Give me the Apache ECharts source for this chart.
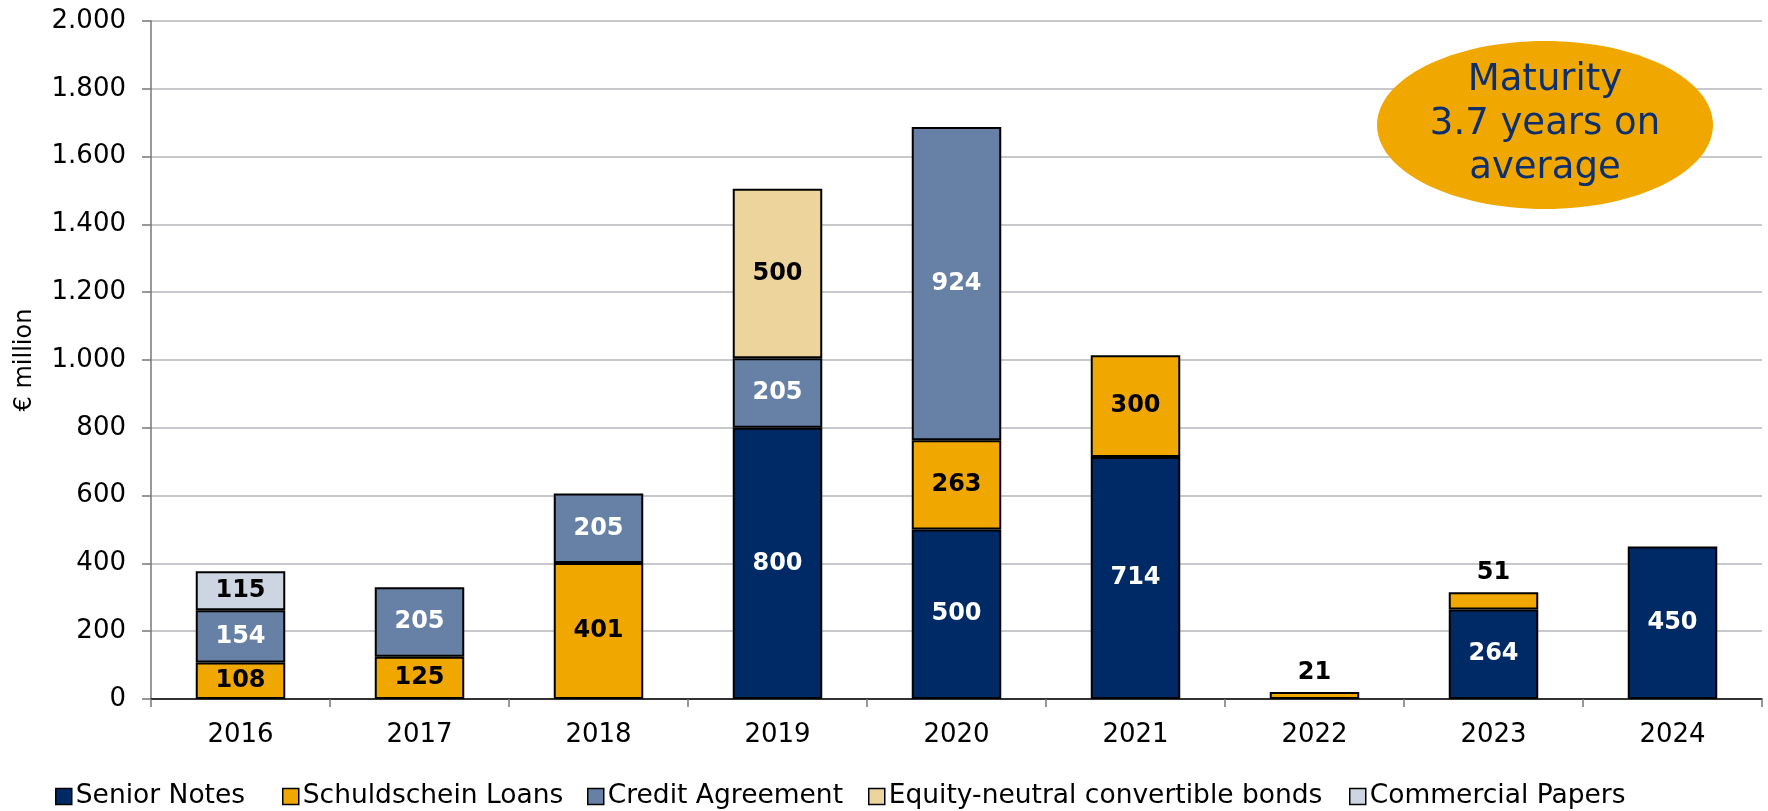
<!DOCTYPE html>
<html>
<head>
<meta charset="utf-8">
<script src="https://cdn.jsdelivr.net/npm/echarts@6/dist/echarts.min.js"></script>
<style>
  html, body { margin: 0; padding: 0; background: #fff; }
  #chart { width: 1768px; height: 811px; }
</style>
</head>
<body>
<div id="chart"></div>
<script>
// Debt maturity profile, € million per year
const years = ['2016', '2017', '2018', '2019', '2020', '2021', '2022', '2023', '2024'];
const seniorNotes      = [null, null, null, 800, 500, 714, null, 264, 450];
const schuldschein     = [108, 125, 401, null, 263, 300, 21, 51, null];
const creditAgreement  = [154, 205, 205, 205, 924, null, null, null, null];
const convertibleBonds = [null, null, null, 500, null, null, null, null, null];
const commercialPapers = [115, null, null, null, null, null, null, null, null];
const yTicks = { min: 0, max: 2000, step: 200 };
const seriesNames = ['Senior Notes', 'Schuldschein Loans', 'Credit Agreement',
                     'Equity-neutral convertible bonds', 'Commercial Papers'];
const calloutLines = ['Maturity', '3.7 years on', 'average'];
// small slices whose label sits above the bar
const labelAbove = { '2022': true, '2023': true };

const FONT = '"DejaVu Sans", Verdana, sans-serif';
const colors = ['#002A66', '#F0A800', '#6680A6', '#EDD49C', '#CDD4E2'];
const labelColors = ['#ffffff', '#000000', '#ffffff', '#000000', '#000000'];
const values = [seniorNotes, schuldschein, creditAgreement, convertibleBonds, commercialPapers];
// left edge of each legend entry along the bottom row
const legendLeft = [55, 282, 587, 868, 1349];

function fmtThousands(v) {
  return String(v).replace(/\B(?=(\d{3})+(?!\d))/g, '.');
}

const series = values.map((arr, i) => ({
  name: seriesNames[i],
  type: 'bar',
  stack: 'total',
  barWidth: '50%',
  itemStyle: { color: colors[i], borderColor: '#000', borderWidth: 2 },
  label: {
    show: true,
    position: 'inside',
    color: labelColors[i],
    fontFamily: FONT,
    fontWeight: 'bold',
    fontSize: 24
  },
  data: arr.map((v, j) => {
    if (v === null) return '-';
    if (i === 1 && labelAbove[years[j]]) {
      return { value: v, label: { position: 'top', distance: 7, color: '#000' } };
    }
    return v;
  })
}));

const legends = seriesNames.map((name, i) => ({
  left: legendLeft[i],
  top: 783,
  padding: 0,
  itemWidth: 16,
  itemHeight: 16,
  icon: 'rect',
  textStyle: { fontFamily: FONT, fontSize: 26.5, color: '#000', padding: [0, 0, 0, -1] },
  itemStyle: { borderColor: '#000', borderWidth: 1.5 },
  data: [name]
}));

const chart = echarts.init(document.getElementById('chart'), null, { renderer: 'canvas' });
chart.setOption({
  animation: false,
  backgroundColor: '#fff',
  grid: { left: 151, right: 6, top: 21, bottom: 112 },
  legend: legends,
  xAxis: {
    type: 'category',
    data: years,
    axisLine: { lineStyle: { color: '#000', width: 1.5 } },
    axisTick: { show: true, length: 8, lineStyle: { color: '#777', width: 1.5 } },
    axisLabel: { fontFamily: FONT, fontSize: 26, color: '#000', margin: 23 }
  },
  yAxis: {
    type: 'value',
    min: yTicks.min,
    max: yTicks.max,
    interval: yTicks.step,
    name: '€ million',
    nameLocation: 'middle',
    nameRotate: 90,
    nameGap: 114,
    nameTextStyle: { fontFamily: FONT, fontSize: 24, color: '#000' },
    axisLine: { show: true, lineStyle: { color: '#777', width: 1.5 } },
    axisTick: { show: true, length: 9, lineStyle: { color: '#777', width: 1.5 } },
    splitLine: { lineStyle: { color: '#B4B6BA', width: 1.5 } },
    axisLabel: {
      fontFamily: FONT, fontSize: 26, color: '#000', margin: 25,
      formatter: v => fmtThousands(v)
    }
  },
  graphic: [
    {
      type: 'ellipse',
      shape: { cx: 1545, cy: 125, rx: 168, ry: 84 },
      style: { fill: '#F0A800' },
      z: 100
    },
    {
      type: 'text',
      x: 1545,
      y: 124,
      style: {
        text: calloutLines.join('\n'),
        fill: '#0D2F6E',
        font: '37px ' + FONT,
        lineHeight: 44,
        align: 'center',
        verticalAlign: 'middle'
      },
      z: 101
    }
  ],
  series: series
});
</script>
</body>
</html>
